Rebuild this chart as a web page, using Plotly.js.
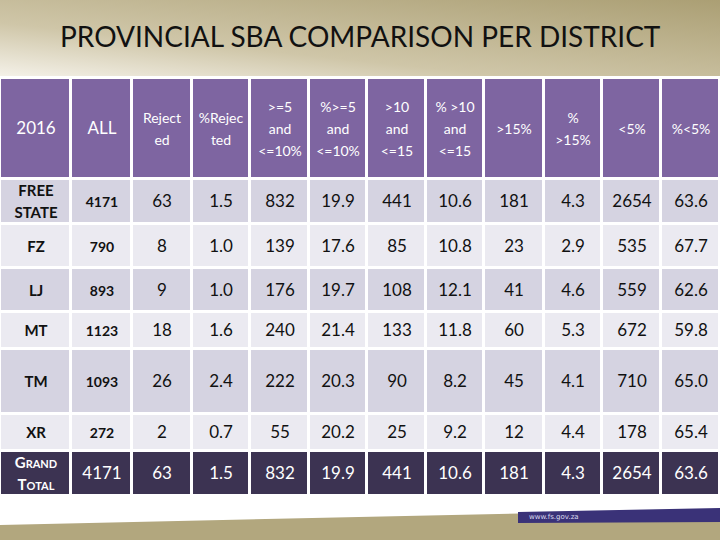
<!DOCTYPE html>
<html>
<head>
<meta charset="utf-8">
<script src="https://cdn.plot.ly/plotly-3.0.1.min.js"></script>
<style>html,body{margin:0;padding:0;background:#fff;}#chart{width:720px;height:540px;}</style>
</head>
<body>
<div id="chart"></div>
<script>
// ---- data ----
const titleText = "PROVINCIAL SBA COMPARISON PER DISTRICT";
const headerLabels = ["2016", "ALL", "Reject<br>ed", "%Rejec<br>ted",
  "&gt;=5<br>and<br>&lt;=10%", "%&gt;=5<br>and<br>&lt;=10%",
  "&gt;10<br>and<br>&lt;=15", "% &gt;10<br>and<br>&lt;=15",
  "&gt;15%", "%<br>&gt;15%", "&lt;5%", "%&lt;5%"];
const districts = ["FREE<br>STATE", "FZ", "LJ", "MT", "TM", "XR", "GRAND<br>TOTAL"];
const allCount   = [4171, 790, 893, 1123, 1093, 272, 4171];
const rejected   = [63, 8, 9, 18, 26, 2, 63];
const pctRejected= [1.5, 1.0, 1.0, 1.6, 2.4, 0.7, 1.5];
const n5to10     = [832, 139, 176, 240, 222, 55, 832];
const pct5to10   = [19.9, 17.6, 19.7, 21.4, 20.3, 20.2, 19.9];
const n10to15    = [441, 85, 108, 133, 90, 25, 441];
const pct10to15  = [10.6, 10.8, 12.1, 11.8, 8.2, 9.2, 10.6];
const n15        = [181, 23, 41, 60, 45, 12, 181];
const pct15      = [4.3, 2.9, 4.6, 5.3, 4.1, 4.4, 4.3];
const nLt5       = [2654, 535, 559, 672, 710, 178, 2654];
const pctLt5     = [63.6, 67.7, 62.6, 59.8, 65.0, 65.4, 63.6];

// ---- layout geometry (pixels) ----
const colEdges = [0, 71, 132, 192, 250, 309, 367, 426, 484, 544, 602, 661, 720];
const rowEdges = [0, 100.5, 145.5, 190, 233.5, 270.5, 335.5, 372.5, 417.5];
const tableTop = 78, tableBottom = 495.5;

// ---- build ----
const nRows = districts.length, last = nRows - 1;
const f1 = a => a.map(v => v.toFixed(1));
const s = a => a.map(v => String(v));
const sp = (t, size, color, bold) =>
  "<span style='font-size:" + size + "px;color:" + color + (bold ? ";font-weight:bold" : "") + "'>" + t + "</span>";
const smallCaps = w => w.split("<br>").map(x => x[0] + "<span style='font-size:11px'>" + x.slice(1) + "</span>").join("<br>");

const bodyCols = [s(rejected), f1(pctRejected), s(n5to10), f1(pct5to10),
  s(n10to15), f1(pct10to15), s(n15), f1(pct15), s(nLt5), f1(pctLt5)];

const headerRow = headerLabels.map((h, j) => sp(h, j < 2 ? 17 : 14, "#ffffff", false));
const text = [headerRow];
const z = [headerLabels.map(() => 0)];
for (let i = 0; i < nRows; i++) {
  const isTotal = i === last;
  const fc = isTotal ? "#ffffff" : "#111111";
  const row = [];
  row.push(isTotal ? sp(smallCaps(districts[i]), 15, fc, true) : sp(districts[i], 15, fc, true));
  row.push(isTotal ? sp(allCount[i], 17, fc, false) : sp(allCount[i], 14, fc, true));
  bodyCols.forEach(c => row.push(sp(c[i], 17, fc, false)));
  text.push(row);
  z.push(row.map(() => isTotal ? 3 : (i % 2 === 0 ? 1 : 2)));
}
const rowY = rowEdges;

const trace = {
  type: "heatmap",
  x: colEdges, y: rowY, z: z,
  text: text, texttemplate: "%{text}",
  textfont: {family: "Lato, 'Open Sans', sans-serif", size: 17, color: "#111111"},
  colorscale: [[0, "#7e65a1"], [1/3, "#d5d3e1"], [2/3, "#ebeaf1"], [1, "#3c3352"]],
  zmin: 0, zmax: 3, showscale: false, hoverinfo: "skip",
  xgap: 3, ygap: 3
};

const headerBand = 'data:image/svg+xml;utf8,' + encodeURIComponent(
  '<svg xmlns="http://www.w3.org/2000/svg" width="720" height="76" preserveAspectRatio="none">' +
  '<defs><linearGradient id="g" x1="0" y1="1" x2="1" y2="0">' +
  '<stop offset="0" stop-color="#f4f1e8"/><stop offset="0.35" stop-color="#cfc6a8"/>' +
  '<stop offset="1" stop-color="#ab9f74"/></linearGradient></defs>' +
  '<rect width="720" height="76" fill="url(#g)"/></svg>');

const footBand = 'data:image/svg+xml;utf8,' + encodeURIComponent(
  '<svg xmlns="http://www.w3.org/2000/svg" width="720" height="44" preserveAspectRatio="none">' +
  '<polygon points="0,29 720,13 720,44 0,44" fill="#b2a77e"/>' +
  '<polygon points="518,16 720,12 720,26 518,27" fill="#3a3278"/></svg>');

const layout = {
  width: 720, height: 540,
  margin: {l: 0, r: 0, t: 0, b: 0},
  paper_bgcolor: "#ffffff", plot_bgcolor: "#ffffff",
  xaxis: {range: [0, 720], visible: false, fixedrange: true, domain: [0, 1]},
  yaxis: {range: [rowEdges[rowEdges.length - 1], 0], visible: false, fixedrange: true,
          domain: [1 - tableBottom / 540, 1 - tableTop / 540]},
  images: [
    {source: headerBand, xref: "paper", yref: "paper", x: 0, y: 1, sizex: 1, sizey: 76/540,
     sizing: "stretch", xanchor: "left", yanchor: "top", layer: "below"},
    {source: footBand, xref: "paper", yref: "paper", x: 0, y: 44/540, sizex: 1, sizey: 44/540,
     sizing: "stretch", xanchor: "left", yanchor: "top", layer: "below"}
  ],
  annotations: [
    {text: titleText, xref: "paper", yref: "paper", x: 0.5, y: 1 - 36/540,
     xanchor: "center", yanchor: "middle", showarrow: false,
     font: {family: "Lato, 'Open Sans', sans-serif", size: 28, color: "#111"}},
    {text: "www.fs.gov.za", xref: "paper", yref: "paper", x: 527/720, y: 1 - 517/540,
     xanchor: "left", yanchor: "middle", showarrow: false,
     font: {family: "DejaVu Sans, sans-serif", size: 7, color: "#dcdcf0"}}
  ]
};

Plotly.newPlot("chart", [trace], layout, {displayModeBar: false, staticPlot: true});
</script>
</body>
</html>
